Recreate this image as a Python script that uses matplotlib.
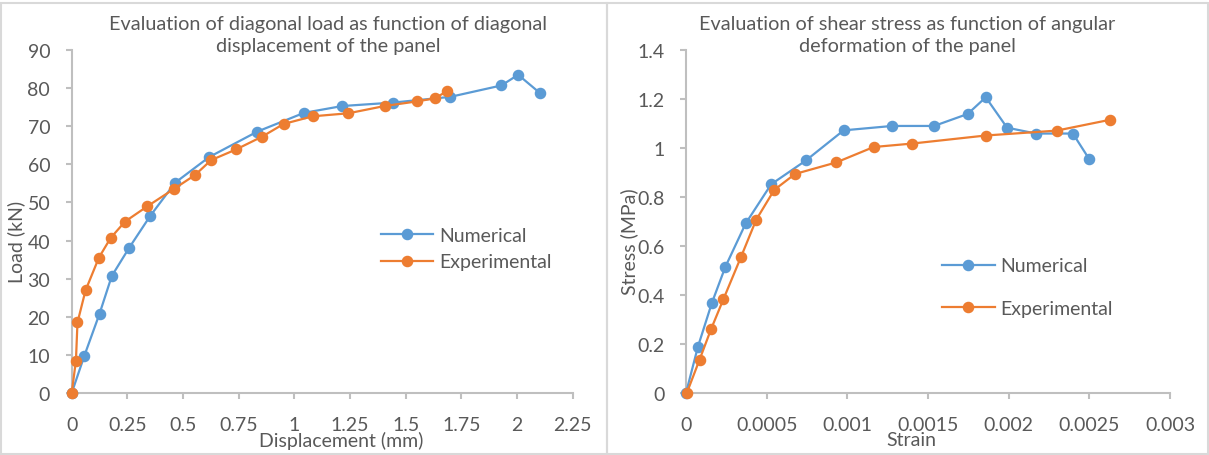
import matplotlib
matplotlib.use("Agg")
import matplotlib.pyplot as plt
from matplotlib.patches import Rectangle

# diagonal load vs displacement
disp_num = [0, 0.057, 0.125, 0.18, 0.257, 0.353, 0.465, 0.617, 0.834, 1.043,
            1.215, 1.443, 1.70, 1.93, 2.005, 2.103]
load_num = [0, 9.8, 20.8, 30.7, 38.0, 46.5, 55.2, 61.9, 68.6, 73.5,
            75.3, 76.2, 77.7, 80.7, 83.5, 78.7]
disp_exp = [0, 0.019, 0.026, 0.062, 0.122, 0.175, 0.24, 0.34, 0.458, 0.554,
            0.626, 0.738, 0.856, 0.952, 1.082, 1.243, 1.405, 1.549, 1.63, 1.686]
load_exp = [0, 8.5, 18.5, 26.9, 35.5, 40.7, 45.0, 49.0, 53.5, 57.2,
            61.1, 63.9, 67.3, 70.6, 72.6, 73.4, 75.3, 76.5, 77.3, 79.2]

# shear stress vs strain
strain_num = [0, 0.000074, 0.00016, 0.000244, 0.00037, 0.000528, 0.000743,
              0.000977, 0.001278, 0.001538, 0.001746, 0.001858, 0.00199,
              0.002169, 0.002398, 0.002498]
stress_num = [0, 0.189, 0.367, 0.515, 0.692, 0.852, 0.949, 1.072, 1.09,
              1.09, 1.139, 1.207, 1.083, 1.059, 1.059, 0.956]
strain_exp = [0.000005, 0.000084, 0.000155, 0.000232, 0.000342, 0.000435,
              0.000547, 0.000676, 0.000931, 0.001163, 0.0014, 0.001858,
              0.002298, 0.002627]
stress_exp = [0, 0.136, 0.26, 0.383, 0.557, 0.707, 0.829, 0.894, 0.941,
              1.004, 1.018, 1.051, 1.071, 1.115]

x1_ticks = [0, 0.25, 0.5, 0.75, 1, 1.25, 1.5, 1.75, 2, 2.25]
x1_labels = ["0", "0.25", "0.5", "0.75", "1", "1.25", "1.5", "1.75", "2", "2.25"]
y1_ticks = [0, 10, 20, 30, 40, 50, 60, 70, 80, 90]
x2_ticks = [0, 0.0005, 0.001, 0.0015, 0.002, 0.0025, 0.003]
x2_labels = ["0", "0.0005", "0.001", "0.0015", "0.002", "0.0025", "0.003"]
y2_ticks = [0, 0.2, 0.4, 0.6, 0.8, 1.0, 1.2, 1.4]
y2_labels = ["0", "0.2", "0.4", "0.6", "0.8", "1", "1.2", "1.4"]

BLUE = "#5B9BD5"
ORANGE = "#ED7D31"
TXT = "#595959"
AXC = "#BFBFBF"
FS = 14

plt.rcParams["font.family"] = ["Lato", "DejaVu Sans"]

W, H = 1209, 456
fig = plt.figure(figsize=(W / 100, H / 100), dpi=100)

# panel frames
for x0, x1 in [(1, 607), (607, 1208)]:
    fig.patches.append(Rectangle((x0 / W, 1 / H), (x1 - x0) / W, (451 / H),
                                 transform=fig.transFigure, fill=False,
                                 edgecolor="#D9D9D9", linewidth=1.5))

ax1 = fig.add_axes([71.7 / W, 62 / H, 501 / W, 343 / H])
ax2 = fig.add_axes([686 / W, 62 / H, 484 / W, 343 / H])


def style(ax):
    for s in ["top", "right"]:
        ax.spines[s].set_visible(False)
    for s in ["left", "bottom"]:
        ax.spines[s].set_color(AXC)
        ax.spines[s].set_linewidth(1.5)
    ax.tick_params(axis="both", colors=AXC, labelcolor=TXT, labelsize=FS,
                   length=4.5, width=1.5)
    ax.tick_params(axis="y", pad=11)
    ax.tick_params(axis="x", pad=12)


kw = dict(marker="o", markersize=7.3, linewidth=1.6, clip_on=False, zorder=3)
leg_kw = dict(loc="center left", frameon=False, fontsize=FS, labelcolor=TXT,
              handlelength=2.7, handletextpad=0.3, borderpad=0,
              borderaxespad=0)

ax1.plot(disp_num, load_num, color=BLUE, label="Numerical", **kw)
ax1.plot(disp_exp, load_exp, color=ORANGE, label="Experimental", **kw)
ax1.set_xlim(0, 2.25)
ax1.set_ylim(0, 90)
ax1.set_xticks(x1_ticks, x1_labels)
ax1.set_yticks(y1_ticks)
style(ax1)
ax1.set_xlabel("Displacement (mm)", fontsize=FS, color=TXT, va="center")
ax1.set_ylabel("Load (kN)", fontsize=FS, color=TXT, va="center")
ax1.xaxis.set_label_coords(0.537, -0.137)
ax1.yaxis.set_label_coords(-0.111, 0.443)
ax1.legend(bbox_to_anchor=(0.617, 0.421), labelspacing=0.5, **leg_kw)
fig.text(328 / W, 1 - 35.5 / H,
         "Evaluation of diagonal load as function of diagonal\ndisplacement of the panel",
         ha="center", va="center", fontsize=14.3, color=TXT, linespacing=1.3)

ax2.plot(strain_num, stress_num, color=BLUE, label="Numerical", **kw)
ax2.plot(strain_exp, stress_exp, color=ORANGE, label="Experimental", **kw)
ax2.set_xlim(0, 0.003)
ax2.set_ylim(0, 1.4)
ax2.set_xticks(x2_ticks, x2_labels)
ax2.set_yticks(y2_ticks, y2_labels)
style(ax2)
ax2.set_xlabel("Strain", fontsize=FS, color=TXT, va="center")
ax2.set_ylabel("Stress (MPa)", fontsize=FS, color=TXT, va="center")
ax2.xaxis.set_label_coords(0.465, -0.137)
ax2.yaxis.set_label_coords(-0.118, 0.443)
ax2.legend(bbox_to_anchor=(0.529, 0.309), labelspacing=1.3, **leg_kw)
fig.text(907 / W, 1 - 35.5 / H,
         "Evaluation of shear stress as function of angular\ndeformation of the panel",
         ha="center", va="center", fontsize=14.3, color=TXT, linespacing=1.3)

fig.savefig("out.png", dpi=100)
